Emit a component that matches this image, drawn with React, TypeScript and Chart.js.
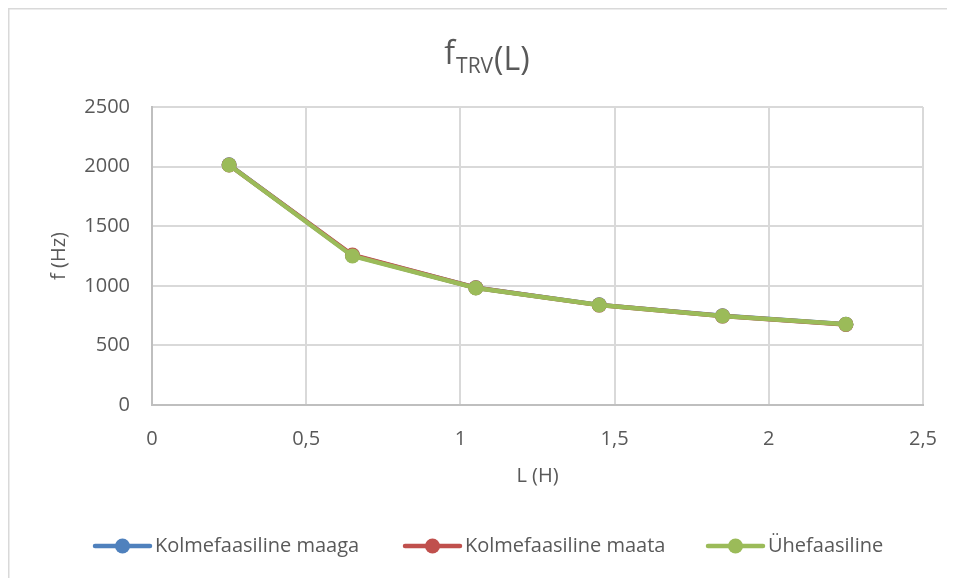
import React, { useEffect, useRef } from "react";
import { Chart, registerables } from "chart.js";

Chart.register(...registerables);

const xValues = [0.25, 0.65, 1.05, 1.45, 1.85, 2.25];
const seriesNames = ["Kolmefaasiline maaga", "Kolmefaasiline maata", "Ühefaasiline"];
const maaga = [2015, 1254, 984, 840, 748, 678];
const maata = [2013, 1258, 984, 838, 746, 676];
const yhefaasiline = [2013, 1250, 982, 839, 747, 677];
const seriesColors = ["#4F81BD", "#C0504D", "#9BBB59"];
const xTitle = "L (H)";
const yTitle = "f (Hz)";
const titleMain = "f";
const titleSub = "TRV";
const titleTail = "(L)";

const FONT = "'Open Sans', 'Noto Sans', sans-serif";
const TEXT = "#595959";

const decorPlugin = {
  id: "decor",
  afterDraw(chart: any) {
    const ctx = chart.ctx as CanvasRenderingContext2D;
    ctx.save();
    // outer border (top & left visible)
    ctx.strokeStyle = "#d9d9d9";
    ctx.lineWidth = 1.5;
    ctx.beginPath();
    ctx.moveTo(0.75, chart.height);
    ctx.lineTo(0.75, 0.75);
    ctx.lineTo(chart.width, 0.75);
    ctx.stroke();

    // title with subscript
    ctx.fillStyle = TEXT;
    ctx.textBaseline = "alphabetic";
    ctx.textAlign = "left";
    const mainFont = `32px ${FONT}`;
    const subFont = `21px ${FONT}`;
    ctx.font = mainFont;
    const wF = ctx.measureText(titleMain).width;
    const wT = ctx.measureText(titleTail).width;
    ctx.font = subFont;
    const wS = ctx.measureText(titleSub).width;
    const total = wF + wS + wT + 2;
    let x = 479 - total / 2;
    ctx.font = mainFont;
    ctx.fillText(titleMain, x, 56);
    x += wF + 1;
    ctx.font = subFont;
    ctx.fillText(titleSub, x, 65);
    x += wS + 1;
    ctx.font = mainFont;
    ctx.fillText(titleTail, x, 62);

    // legend
    ctx.font = `20px ${FONT}`;
    ctx.textBaseline = "middle";
    const yL = 538;
    const itemStarts = [87, 397, 700];
    chart.data.datasets.forEach((ds: any, i: number) => {
      const x0 = itemStarts[i];
      ctx.strokeStyle = ds.borderColor;
      ctx.lineWidth = 4.5;
      ctx.lineCap = "round";
      ctx.beginPath();
      ctx.moveTo(x0, yL);
      ctx.lineTo(x0 + 55, yL);
      ctx.stroke();
      ctx.fillStyle = ds.backgroundColor;
      ctx.beginPath();
      ctx.arc(x0 + 27.5, yL, 7.5, 0, Math.PI * 2);
      ctx.fill();
      ctx.fillStyle = TEXT;
      ctx.fillText(ds.label, x0 + 60, yL);
    });
    ctx.restore();
  },
};

export default function App() {
  const ref = useRef<HTMLCanvasElement>(null);
  useEffect(() => {
    const data = [maaga, maata, yhefaasiline];
    const chart = new Chart(ref.current!, {
      type: "line",
      data: {
        datasets: seriesNames.map((name, i) => ({
          label: name,
          data: xValues.map((x, j) => ({ x, y: data[i][j] })),
          borderColor: seriesColors[i],
          backgroundColor: seriesColors[i],
          borderWidth: 4.5,
          pointRadius: 7.5,
          pointHoverRadius: 7.5,
          pointBorderWidth: 0,
          tension: 0,
          order: seriesNames.length - 1 - i,
        })),
      },
      options: {
        animation: false,
        responsive: true,
        maintainAspectRatio: false,
        layout: { padding: { top: 99, right: 32, bottom: 73, left: 0 } },
        plugins: { legend: { display: false }, title: { display: false }, tooltip: { enabled: false } },
        scales: {
          x: {
            type: "linear",
            min: 0,
            max: 2.5,
            ticks: {
              stepSize: 0.5,
              padding: 2,
              color: TEXT,
              font: { family: FONT, size: 20 },
              callback: (v: any) => String(v).replace(".", ","),
            },
            grid: { color: "#d9d9d9", lineWidth: 2, drawTicks: true, tickLength: 20, tickColor: "rgba(0,0,0,0)" },
            border: { color: "#bfbfbf", width: 2 },
            title: { display: true, text: xTitle, color: TEXT, font: { family: FONT, size: 20 }, padding: { top: 0, bottom: 17 } },
            afterFit: (s: any) => { s.height = 100; },
          },
          y: {
            min: 0,
            max: 2500,
            ticks: { stepSize: 500, padding: 22, color: TEXT, font: { family: FONT, size: 20 }, callback: (v: any) => String(v) },
            grid: { color: "#d9d9d9", lineWidth: 2, drawTicks: false },
            border: { color: "#bfbfbf", width: 2 },
            title: { display: true, text: yTitle, color: TEXT, font: { family: FONT, size: 20 }, padding: { top: 39, bottom: 0 } },
            afterFit: (s: any) => { s.width = 144; },
          },
        },
      },
      plugins: [decorPlugin],
    });
    return () => chart.destroy();
  }, []);
  return (
    <div style={{ position: "relative", width: 947, height: 570, background: "#fff" }}>
      <canvas ref={ref} />
    </div>
  );
}
